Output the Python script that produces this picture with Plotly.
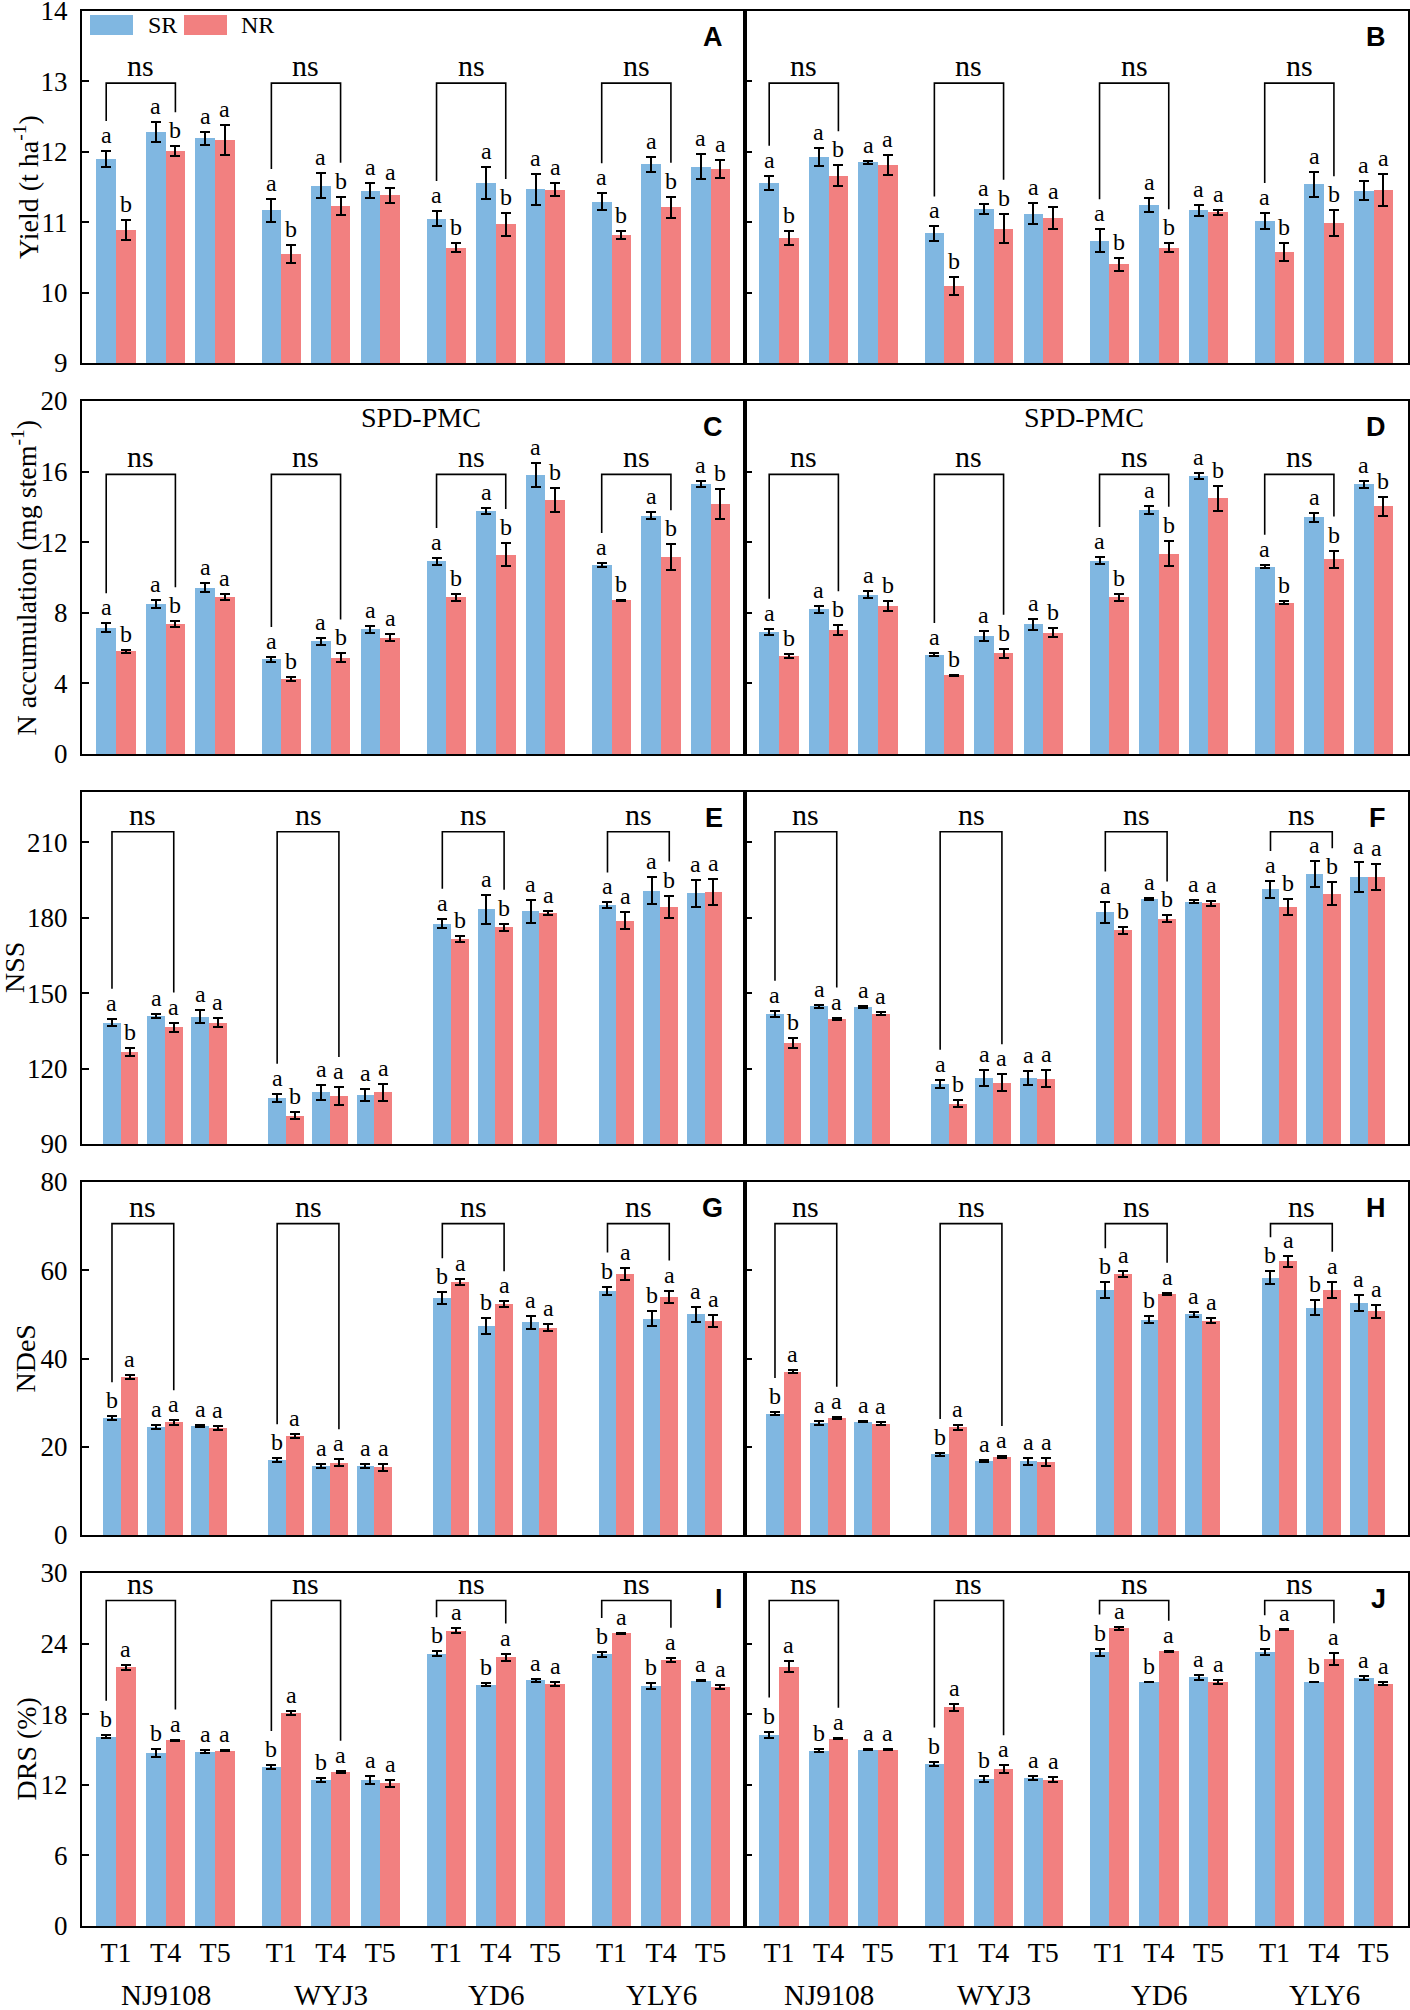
import plotly.graph_objects as go

cultivars = ["NJ9108", "WYJ3", "YD6", "YLY6"]
treatments = ["T1", "T4", "T5"]

# values ordered NJ9108 T1,T4,T5 | WYJ3 T1,T4,T5 | YD6 ... | YLY6 ...
# A - yield, left
a_sr = [11.90, 12.28, 12.19, 11.17, 11.52, 11.45, 11.05, 11.56, 11.47, 11.29, 11.82, 11.79]
a_sr_se = [0.11, 0.14, 0.09, 0.16, 0.18, 0.11, 0.11, 0.23, 0.22, 0.12, 0.11, 0.18]
a_nr = [10.89, 12.01, 12.17, 10.55, 11.23, 11.38, 10.64, 10.97, 11.46, 10.82, 11.21, 11.76]
a_nr_se = [0.14, 0.07, 0.21, 0.13, 0.13, 0.11, 0.06, 0.16, 0.09, 0.06, 0.15, 0.13]
a_sr_sig = list("aaaaaaaaaaaa")
a_nr_sig = list("bbabbabbabba")
# B - yield, right
b_sr = [11.56, 11.93, 11.85, 10.84, 11.19, 11.12, 10.74, 11.24, 11.17, 11.02, 11.54, 11.45]
b_sr_se = [0.10, 0.13, 0.02, 0.10, 0.07, 0.15, 0.16, 0.10, 0.08, 0.11, 0.18, 0.13]
b_nr = [10.78, 11.66, 11.81, 10.09, 10.91, 11.06, 10.40, 10.64, 11.14, 10.58, 10.99, 11.46]
b_nr_se = [0.10, 0.15, 0.14, 0.13, 0.21, 0.16, 0.09, 0.06, 0.04, 0.13, 0.18, 0.23]
b_sr_sig = list("aaaaaaaaaaaa")
b_nr_sig = list("bbabbabbabba")
# C - N accumulation, left
c_sr = [7.16, 8.51, 9.43, 5.37, 6.39, 7.07, 10.91, 13.76, 15.80, 10.72, 13.50, 15.29]
c_sr_se = [0.25, 0.24, 0.24, 0.13, 0.20, 0.19, 0.19, 0.19, 0.68, 0.10, 0.20, 0.19]
c_nr = [5.82, 7.37, 8.90, 4.27, 5.46, 6.60, 8.87, 11.30, 14.39, 8.71, 11.17, 14.16]
c_nr_se = [0.08, 0.15, 0.17, 0.12, 0.24, 0.22, 0.18, 0.65, 0.70, 0.04, 0.72, 0.83]
c_sr_sig = list("aaaaaaaaaaaa")
c_nr_sig = list("bbabbabbbbbb")
# D - N accumulation, right
d_sr = [6.92, 8.19, 9.02, 5.63, 6.69, 7.35, 10.96, 13.84, 15.75, 10.62, 13.40, 15.27]
d_sr_se = [0.17, 0.20, 0.20, 0.09, 0.30, 0.32, 0.20, 0.22, 0.19, 0.10, 0.27, 0.19]
d_nr = [5.54, 7.01, 8.39, 4.46, 5.71, 6.88, 8.87, 11.36, 14.48, 8.58, 11.04, 14.03]
d_nr_se = [0.10, 0.28, 0.30, 0.03, 0.26, 0.27, 0.20, 0.72, 0.70, 0.07, 0.49, 0.53]
d_sr_sig = list("aaaaaaaaaaaa")
d_nr_sig = list("bbbbbbbbbbbb")
# E - NSS, left
e_sr = [138.3, 141.0, 140.7, 108.3, 110.6, 109.6, 177.7, 183.3, 182.5, 184.9, 190.8, 189.8]
e_sr_se = [1.5, 0.8, 2.4, 1.7, 3.0, 2.4, 1.9, 5.6, 4.5, 1.2, 5.2, 5.4]
e_nr = [126.5, 136.5, 138.2, 101.3, 109.1, 110.6, 171.5, 176.2, 181.9, 178.8, 184.3, 190.1]
e_nr_se = [1.6, 1.8, 1.8, 1.3, 3.6, 3.4, 1.3, 1.4, 0.9, 3.3, 4.5, 5.2]
e_sr_sig = list("aaaaaaaaaaaa")
e_nr_sig = list("baabaabbaaba")
# F - NSS, right
f_sr = [141.8, 144.8, 144.6, 113.9, 116.3, 116.3, 182.1, 187.4, 186.4, 191.3, 197.4, 196.2]
f_sr_se = [1.2, 0.6, 0.4, 1.7, 3.2, 2.9, 4.3, 0.3, 0.6, 3.3, 5.3, 5.8]
f_nr = [130.0, 139.9, 141.8, 106.1, 114.3, 116.0, 175.0, 179.5, 185.7, 184.3, 189.6, 196.2]
f_nr_se = [2.0, 0.4, 0.6, 1.4, 3.4, 3.5, 1.4, 1.4, 0.9, 3.1, 4.5, 5.0]
f_sr_sig = list("aaaaaaaaaaaa")
f_nr_sig = list("baabaabbabba")
# G - NDeS, left
g_sr = [26.5, 24.45, 24.7, 17.0, 15.6, 15.7, 53.7, 47.4, 48.2, 55.3, 49.0, 50.0]
g_sr_se = [0.4, 0.45, 0.15, 0.4, 0.5, 0.45, 1.3, 1.8, 1.5, 1.0, 1.7, 1.7]
g_nr = [35.8, 25.5, 24.2, 22.4, 16.4, 15.4, 57.3, 52.3, 47.0, 59.1, 54.0, 48.5]
g_nr_se = [0.5, 0.5, 0.5, 0.45, 0.75, 0.8, 0.75, 0.7, 0.75, 1.3, 1.4, 1.3]
g_sr_sig = list("baabaabbabba")
g_nr_sig = list("aaaaaaaaaaaa")
# H - NDeS, right
h_sr = [27.5, 25.4, 25.7, 18.3, 16.8, 16.7, 55.5, 48.8, 50.0, 58.3, 51.5, 52.5]
h_sr_se = [0.4, 0.4, 0.2, 0.3, 0.2, 0.8, 1.8, 0.75, 0.6, 1.5, 1.7, 1.8]
h_nr = [37.0, 26.6, 25.2, 24.4, 17.7, 16.5, 59.2, 54.6, 48.6, 62.0, 55.6, 50.7]
h_nr_se = [0.3, 0.2, 0.3, 0.5, 0.2, 0.85, 0.7, 0.3, 0.5, 1.2, 1.8, 1.5]
h_sr_sig = list("baabaabbabba")
h_nr_sig = list("aaaaaaaaaaaa")
# I - DRS, left
i_sr = [16.10, 14.69, 14.83, 13.52, 12.39, 12.42, 23.14, 20.50, 20.87, 23.08, 20.39, 20.84]
i_sr_se = [0.15, 0.34, 0.12, 0.17, 0.17, 0.34, 0.22, 0.14, 0.14, 0.20, 0.22, 0.06]
i_nr = [21.97, 15.79, 14.91, 18.09, 13.10, 12.13, 25.09, 22.85, 20.56, 24.87, 22.63, 20.30]
i_nr_se = [0.20, 0.06, 0.05, 0.20, 0.10, 0.28, 0.20, 0.30, 0.20, 0.03, 0.17, 0.14]
i_sr_sig = list("bbabbabbabba")
i_nr_sig = list("aaaaaaaaaaaa")
# J - DRS, right
j_sr = [16.27, 14.89, 15.00, 13.78, 12.50, 12.62, 23.28, 20.73, 21.12, 23.28, 20.73, 21.07]
j_sr_se = [0.25, 0.14, 0.05, 0.20, 0.22, 0.17, 0.30, 0.03, 0.20, 0.25, 0.03, 0.20]
j_nr = [22.03, 15.93, 15.00, 18.57, 13.33, 12.42, 25.29, 23.33, 20.73, 25.18, 22.68, 20.58]
j_nr_se = [0.45, 0.06, 0.05, 0.28, 0.34, 0.22, 0.14, 0.06, 0.14, 0.03, 0.50, 0.14]
j_sr_sig = list("bbabbabbabba")
j_nr_sig = list("aaaaaaaaaaaa")

panels = [
    ("A", a_sr, a_sr_se, a_nr, a_nr_se, a_sr_sig, a_nr_sig),
    ("B", b_sr, b_sr_se, b_nr, b_nr_se, b_sr_sig, b_nr_sig),
    ("C", c_sr, c_sr_se, c_nr, c_nr_se, c_sr_sig, c_nr_sig),
    ("D", d_sr, d_sr_se, d_nr, d_nr_se, d_sr_sig, d_nr_sig),
    ("E", e_sr, e_sr_se, e_nr, e_nr_se, e_sr_sig, e_nr_sig),
    ("F", f_sr, f_sr_se, f_nr, f_nr_se, f_sr_sig, f_nr_sig),
    ("G", g_sr, g_sr_se, g_nr, g_nr_se, g_sr_sig, g_nr_sig),
    ("H", h_sr, h_sr_se, h_nr, h_nr_se, h_sr_sig, h_nr_sig),
    ("I", i_sr, i_sr_se, i_nr, i_nr_se, i_sr_sig, i_nr_sig),
    ("J", j_sr, j_sr_se, j_nr, j_nr_se, j_sr_sig, j_nr_sig),
]

rows_cfg = [
    dict(rng=[9, 14], ticks=[9, 10, 11, 12, 13, 14], title="Yield (t ha<sup>-1</sup>)", tx=26, geo="wide", br=0.795),
    dict(rng=[0, 20], ticks=[0, 4, 8, 12, 16, 20], title="N accumulation (mg stem<sup>-1</sup>)", tx=25, geo="wide", br=0.792),
    dict(rng=[90, 230], ticks=[90, 120, 150, 180, 210], title="NSS", tx=15, geo="narrow", br=0.887),
    dict(rng=[0, 80], ticks=[0, 20, 40, 60, 80], title="NDeS", tx=25, geo="narrow", br=0.882),
    dict(rng=[0, 30], ticks=[0, 6, 12, 18, 24, 30], title="DRS (%)", tx=26, geo="wide", br=0.922),
]

W, H = 1410, 2010
BLUE = "#80B7E1"
RED = "#F28080"
SERIF = "Liberation Serif"
XMAX = 4.014
# first group centre, treatment pitch, bar width (cultivar pitch = 1)
geom = {"wide": (0.206, 0.300, 0.119), "narrow": (0.235, 0.267, 0.107)}
col_px = [(82, 745), (745, 1408)]
row_px = [(11, 363), (401, 754), (792, 1144), (1182, 1535), (1573, 1926)]
leg_gap = {"a": 30, "b": 34}

fig = go.Figure()
shapes = []
annotations = []
layout = {}

for i, (letter, sr, sr_se, nr, nr_se, sr_sig, nr_sig) in enumerate(panels):
    n = i + 1
    r, c = i // 2, i % 2
    cfg = rows_cfg[r]
    c0, tp, bw = geom[cfg["geo"]]
    xa = "x" if n == 1 else f"x{n}"
    ya = "y" if n == 1 else f"y{n}"
    lo, hi = cfg["rng"]
    span = hi - lo
    ph = row_px[r][1] - row_px[r][0]
    px = span / ph

    centers = [c0 + ci + ti * tp for ci in range(len(cultivars)) for ti in range(len(treatments))]
    x_sr = [v - bw / 2 for v in centers]
    x_nr = [v + bw / 2 for v in centers]

    for xs, ys, es, col, name in [(x_sr, sr, sr_se, BLUE, "SR"), (x_nr, nr, nr_se, RED, "NR")]:
        fig.add_trace(go.Bar(
            x=xs, y=ys, width=bw, name=name, marker=dict(color=col, line=dict(width=0)),
            error_y=dict(type="data", array=es, color="black", thickness=2, width=5),
            xaxis=xa, yaxis=ya, showlegend=False,
        ))

    for xs, ys, es, sig in [(x_sr, sr, sr_se, sr_sig), (x_nr, nr, nr_se, nr_sig)]:
        for k in range(len(xs)):
            annotations.append(dict(
                x=xs[k], y=ys[k] + es[k], xref=xa, yref=ya, text=sig[k], showarrow=False,
                yanchor="bottom", yshift=1, font=dict(family=SERIF, size=24, color="black"),
            ))

    # ns brackets between T1 and T4
    y_top = lo + cfg["br"] * span
    for ci in range(len(cultivars)):
        kl, kr = 3 * ci, 3 * ci + 1
        xl, xr = x_sr[kl], x_nr[kr]
        yl = sr[kl] + sr_se[kl] + leg_gap[sr_sig[kl]] * px
        yr = nr[kr] + nr_se[kr] + leg_gap[nr_sig[kr]] * px
        shapes.append(dict(
            type="path", xref=xa, yref=ya,
            path=f"M {xl},{yl} L {xl},{y_top} L {xr},{y_top} L {xr},{yr}",
            line=dict(color="black", width=1.6),
        ))
        annotations.append(dict(
            x=(xl + xr) / 2, y=y_top, xref=xa, yref=ya, text="ns", showarrow=False,
            yanchor="bottom", yshift=-1, font=dict(family=SERIF, size=30, color="black"),
        ))

    annotations.append(dict(
        x=1, y=1, xref=f"{xa} domain", yref=f"{ya} domain", text=f"<b>{letter}</b>",
        showarrow=False, xanchor="right", yanchor="middle", xshift=-20, yshift=-26,
        font=dict(family="Liberation Sans", size=27, color="black"),
    ))
    if r == 1:
        annotations.append(dict(
            x=0.5, y=1, xref=f"{xa} domain", yref=f"{ya} domain", text="SPD-PMC",
            showarrow=False, xanchor="center", yanchor="middle", xshift=7, yshift=-17,
            font=dict(family=SERIF, size=28, color="black"),
        ))

    x0p, x1p = col_px[c]
    y0p, y1p = row_px[r]
    bottom = r == len(rows_cfg) - 1
    layout["xaxis" if n == 1 else f"xaxis{n}"] = dict(
        domain=[x0p / W, x1p / W], anchor=ya, range=[0, XMAX], automargin=False,
        showline=True, mirror=True, linecolor="black", linewidth=2,
        showgrid=False, zeroline=False, ticks="", fixedrange=True,
        tickvals=centers, ticktext=[treatments[k % 3] for k in range(len(centers))],
        showticklabels=bottom, ticklabelstandoff=0, ticklabeloverflow="allow",
        tickfont=dict(family=SERIF, size=28, color="black"),
    )
    layout["yaxis" if n == 1 else f"yaxis{n}"] = dict(
        domain=[1 - y1p / H, 1 - y0p / H], anchor=xa, range=cfg["rng"], automargin=False,
        tickvals=cfg["ticks"], ticks="inside", ticklen=7, tickwidth=2, tickcolor="black",
        showline=True, mirror=True, linecolor="black", linewidth=2,
        showgrid=False, zeroline=False, fixedrange=True,
        showticklabels=(c == 0), ticklabelstandoff=7, ticklabeloverflow="allow",
        tickfont=dict(family=SERIF, size=27, color="black"),
    )
    if bottom:
        for ci, cv in enumerate(cultivars):
            annotations.append(dict(
                x=c0 + ci + tp, y=1 - 1995 / H, xref=xa, yref="paper", text=cv,
                showarrow=False, yanchor="middle", font=dict(family=SERIF, size=29, color="black"),
            ))

for r, cfg in enumerate(rows_cfg):
    y0p, y1p = row_px[r]
    annotations.append(dict(
        x=cfg["tx"] / W, y=1 - (y0p + y1p) / 2 / H, xref="paper", yref="paper",
        text=cfg["title"], textangle=-90, showarrow=False, xanchor="center", yanchor="middle",
        font=dict(family=SERIF, size=28, color="black"),
    ))

# legend (drawn by hand to match box size)
for (xl, xr), col, lab, tx in [((90, 133), BLUE, "SR", 146), ((184, 227), RED, "NR", 239)]:
    shapes.append(dict(type="rect", xref="paper", yref="paper",
                       x0=xl / W, x1=xr / W, y0=1 - 35 / H, y1=1 - 15 / H,
                       fillcolor=col, line=dict(width=0)))
    annotations.append(dict(x=tx / W, y=1 - 25 / H, xref="paper", yref="paper", text=lab,
                            showarrow=False, xanchor="left", yanchor="middle",
                            font=dict(family=SERIF, size=24, color="black")))

fig.update_layout(
    **layout,
    width=W, height=H, margin=dict(l=0, r=0, t=0, b=0, autoexpand=False),
    barmode="overlay", bargap=0,
    paper_bgcolor="white", plot_bgcolor="white",
    font=dict(family=SERIF, color="black"),
    shapes=shapes, annotations=annotations,
)

fig.write_html("out.html", config={"displayModeBar": False},
               post_script="document.body.style.margin='0px';")
